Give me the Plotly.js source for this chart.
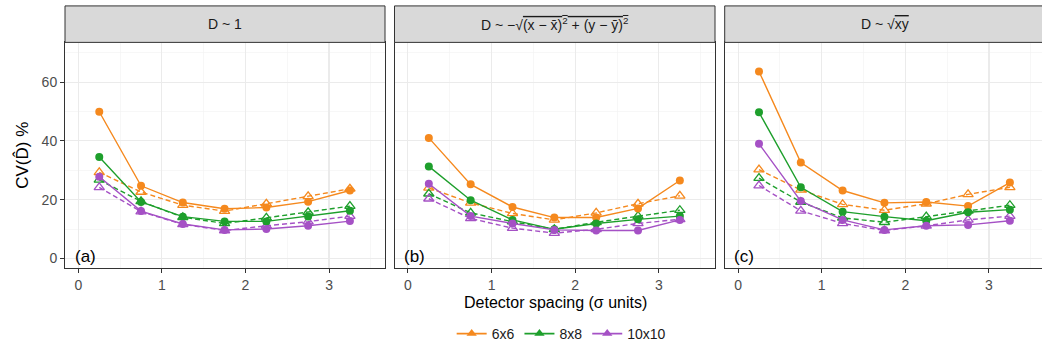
<!DOCTYPE html>
<html>
<head>
<meta charset="utf-8">
<script src="https://cdn.plot.ly/plotly-3.0.1.min.js"></script>
<style>
html,body{margin:0;padding:0;overflow:hidden;background:#fff;}
#chart{width:1045px;height:350px;}
</style>
</head>
<body>
<div id="chart"></div>
<script>
// ---- data ----
const spacing = [0.25, 0.75, 1.25, 1.75, 2.25, 2.75, 3.25];
const grids = ['6x6', '8x8', '10x10'];
const panelLabels = ['(a)', '(b)', '(c)'];
const stripTitles = [
  'D ~ 1',
  "D ~ −√<span style=\"text-decoration:overline\">(x − x̄)<sup>2</sup> + (y − ȳ)<sup>2</sup></span>",
  "D ~ √<span style=\"text-decoration:overline\">xy</span>"
];

// panel (a): D ~ 1
const a_solid_6x6   = [49.9, 24.7, 19.0, 16.9, 17.3, 19.3, 23.1];
const a_solid_8x8   = [34.5, 19.2, 14.2, 12.6, 12.6, 14.3, 16.2];
const a_solid_10x10 = [27.8, 16.1, 11.7, 9.7, 10.0, 11.1, 12.7];
const a_dash_6x6    = [29.3, 22.6, 18.1, 16.1, 18.6, 21.1, 23.7];
const a_dash_8x8    = [26.7, 19.4, 14.0, 11.9, 13.8, 15.7, 17.8];
const a_dash_10x10  = [24.2, 15.9, 11.6, 9.5, 11.1, 12.5, 14.4];

// panel (b): D ~ -sqrt(...)
const b_solid_6x6   = [41.0, 25.2, 17.5, 13.9, 13.9, 17.0, 26.5];
const b_solid_8x8   = [31.3, 19.8, 13.1, 9.9, 11.9, 13.3, 14.4];
const b_solid_10x10 = [25.4, 14.4, 11.9, 9.7, 9.5, 9.5, 13.1];
const b_dash_6x6    = [24.0, 18.9, 15.3, 13.1, 15.5, 18.6, 21.3];
const b_dash_8x8    = [22.0, 15.5, 12.5, 9.9, 12.3, 14.4, 16.4];
const b_dash_10x10  = [20.3, 13.6, 10.3, 8.6, 9.9, 11.9, 13.3];

// panel (c): D ~ sqrt(xy)
const c_solid_6x6   = [63.6, 32.6, 23.1, 18.9, 19.2, 17.8, 25.8];
const c_solid_8x8   = [49.7, 24.2, 15.9, 14.2, 12.8, 15.7, 16.6];
const c_solid_10x10 = [39.0, 19.5, 13.1, 9.7, 11.1, 11.4, 12.8];
const c_dash_6x6    = [30.2, 23.3, 18.4, 16.4, 18.6, 21.8, 24.2];
const c_dash_8x8    = [27.3, 19.2, 13.8, 12.3, 14.2, 16.2, 18.1];
const c_dash_10x10  = [24.8, 16.2, 11.9, 9.5, 11.1, 13.1, 14.4];

const yTickVals = [0, 20, 40, 60];
const xTickVals = [0, 1, 2, 3];

// ---- styling ----
const colors = {'6x6': '#F5891E', '8x8': '#1E9F2C', '10x10': '#A551C5'};
const FONT = 'Liberation Sans, Arial, Helvetica, sans-serif';

const panels = [
  {solid: [a_solid_6x6, a_solid_8x8, a_solid_10x10], dash: [a_dash_6x6, a_dash_8x8, a_dash_10x10]},
  {solid: [b_solid_6x6, b_solid_8x8, b_solid_10x10], dash: [b_dash_6x6, b_dash_8x8, b_dash_10x10]},
  {solid: [c_solid_6x6, c_solid_8x8, c_solid_10x10], dash: [c_dash_6x6, c_dash_8x8, c_dash_10x10]}
];

const W = 1045, H = 350;
const px = v => v / W, py = v => 1 - v / H;
const panelPx = [[65, 385], [394.5, 715], [724.7, 1045]];
const plotTop = 43, plotBottom = 272, stripTop = 6;

const traces = [];
panels.forEach((p, i) => {
  const xa = i === 0 ? 'x' : 'x' + (i + 1);
  const ya = i === 0 ? 'y' : 'y' + (i + 1);
  // dashed with open triangles first
  grids.forEach((g, k) => {
    traces.push({
      x: spacing, y: p.dash[k], xaxis: xa, yaxis: ya, mode: 'lines+markers',
      line: {color: colors[g], width: 1.4, dash: '5px,3px'},
      marker: {symbol: 'triangle-up-open', size: 9, color: colors[g], line: {width: 1.3, color: colors[g]}},
      showlegend: false, hoverinfo: 'skip', cliponaxis: false
    });
  });
  grids.forEach((g, k) => {
    traces.push({
      x: spacing, y: p.solid[k], xaxis: xa, yaxis: ya, mode: 'lines+markers',
      line: {color: colors[g], width: 1.4},
      marker: {symbol: 'circle', size: 8, color: colors[g]},
      showlegend: false, hoverinfo: 'skip', cliponaxis: false
    });
  });
});
// legend entries
grids.forEach(g => {
  traces.push({
    x: [null], y: [null], mode: 'lines+markers', name: g,
    line: {color: colors[g], width: 1.8},
    marker: {symbol: 'triangle-up', size: 9, color: colors[g]},
    showlegend: true
  });
});

const layout = {
  width: W, height: H,
  margin: {l: 0, r: 0, t: 0, b: 0},
  paper_bgcolor: '#fff', plot_bgcolor: '#fff',
  font: {family: FONT, color: '#4D4D4D', size: 14},
  showlegend: true,
  legend: {orientation: 'h', x: 0.537, xanchor: 'center', y: py(323), yanchor: 'top',
           font: {family: FONT, size: 14, color: '#1A1A1A'}, itemwidth: 30, tracegroupgap: 0},
  shapes: [], annotations: []
};

panels.forEach((p, i) => {
  const sx = i === 0 ? '' : String(i + 1);
  const dom = [px(panelPx[i][0]), Math.min(1, px(panelPx[i][1]))];
  layout['xaxis' + sx] = {
    domain: dom, range: [-0.16, 3.67], anchor: 'y' + sx,
    tickvals: xTickVals, ticktext: xTickVals.map(String),
    ticks: 'outside', ticklen: 4, tickcolor: '#333333', tickwidth: 1,
    tickfont: {family: FONT, size: 14, color: '#4D4D4D'},
    showgrid: true, gridcolor: '#EBEBEB', gridwidth: 1.1,
    minor: {dtick: 0.5, tick0: 0, showgrid: true, gridcolor: '#F2F2F2', gridwidth: 0.6, ticklen: 0},
    showline: true, linecolor: '#333333', linewidth: 1, mirror: true,
    zeroline: false, automargin: false, fixedrange: true
  };
  layout['yaxis' + sx] = {
    domain: [py(plotBottom), py(plotTop)], range: [-3.3, 73.5], anchor: 'x' + sx,
    tickvals: yTickVals, ticktext: yTickVals.map(String),
    ticks: i === 0 ? 'outside' : '', ticklen: 4, tickcolor: '#333333', tickwidth: 1,
    showticklabels: i === 0,
    tickfont: {family: FONT, size: 14, color: '#4D4D4D'},
    showgrid: true, gridcolor: '#EBEBEB', gridwidth: 1.1,
    minor: {dtick: 10, tick0: 0, showgrid: true, gridcolor: '#F2F2F2', gridwidth: 0.6, ticklen: 0},
    showline: true, linecolor: '#333333', linewidth: 1, mirror: true,
    zeroline: false, automargin: false, fixedrange: true
  };
  // strip
  layout.shapes.push({
    type: 'rect', xref: 'paper', yref: 'paper',
    x0: dom[0], x1: dom[1] + (i === 2 ? 0.01 : 0), y0: py(plotTop), y1: py(stripTop),
    fillcolor: '#D9D9D9', line: {color: '#333333', width: 1}, layer: 'above'
  });
  layout.annotations.push({
    xref: 'paper', yref: 'paper',
    x: px((panelPx[i][0] + panelPx[i][1]) / 2), y: py((stripTop + plotTop) / 2),
    xanchor: 'center', yanchor: 'middle', showarrow: false,
    text: stripTitles[i], font: {family: FONT, size: 14, color: '#1A1A1A'}
  });
  // panel label
  layout.annotations.push({
    xref: 'x' + sx, yref: 'y' + sx, x: -0.07, y: 0.6,
    xanchor: 'left', yanchor: 'middle', showarrow: false,
    text: panelLabels[i], font: {family: FONT, size: 17, color: '#000000'}
  });
});

// axis titles
layout.annotations.push({
  xref: 'paper', yref: 'paper', x: px(555), y: py(307),
  xanchor: 'center', yanchor: 'middle', showarrow: false,
  text: 'Detector spacing (σ units)', font: {family: FONT, size: 16, color: '#000000'}
});
layout.annotations.push({
  xref: 'paper', yref: 'paper', x: px(22), y: py(158),
  xanchor: 'center', yanchor: 'middle', showarrow: false, textangle: -90,
  text: 'CV(D̂) %', font: {family: FONT, size: 17, color: '#000000'}
});

Plotly.newPlot('chart', traces, layout, {displayModeBar: false, staticPlot: true});
</script>
</body>
</html>
